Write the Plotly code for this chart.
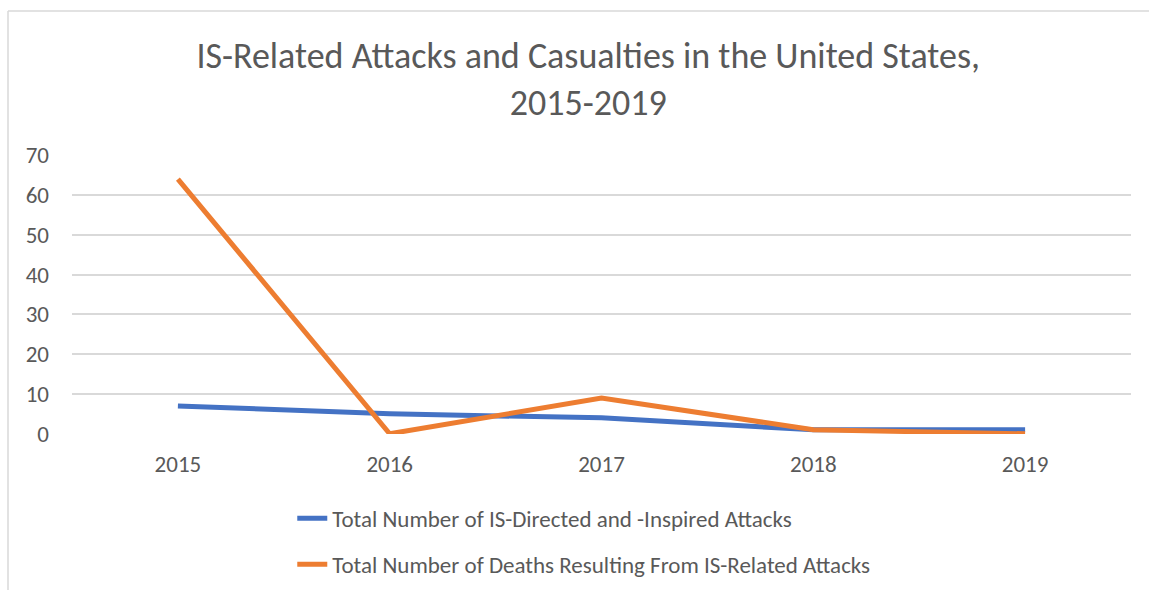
import plotly.graph_objects as go

years = ["2015", "2016", "2017", "2018", "2019"]
attacks = [7, 5, 4, 1, 1]
deaths = [64, 0, 9, 1, 0]
attacks_name = "Total Number of IS-Directed and -Inspired Attacks"
deaths_name = "Total Number of Deaths Resulting From IS-Related Attacks"
title_text = "IS-Related Attacks and Casualties in the United States,<br>2015-2019"

FONT = "Carlito, Lato, 'Open Sans', sans-serif"
TXT = "#595959"

fig = go.Figure()
fig.add_trace(go.Scatter(x=years, y=attacks, mode="lines", name=attacks_name,
                         legendgroup="a",
                         line=dict(color="#4472C4", width=5)))
fig.add_trace(go.Scatter(x=years, y=deaths, mode="lines", name=deaths_name,
                         legendgroup="b",
                         line=dict(color="#ED7D31", width=5)))

fig.update_layout(
    width=1149, height=590,
    margin=dict(l=72, r=18, t=155, b=156, autoexpand=False),
    paper_bgcolor="white", plot_bgcolor="white",
    font=dict(family=FONT, color=TXT, size=22),
    title=dict(text=title_text, x=0.512, xanchor="center", xref="container",
               y=1 - 68 / 590, yanchor="middle", yref="container",
               font=dict(size=36, color=TXT, family=FONT)),
    xaxis=dict(type="category", range=[-0.5, 4.5], showgrid=False, zeroline=False,
               showline=False, ticks="", tickfont=dict(size=23, color=TXT),
               ticklabelstandoff=14),
    yaxis=dict(range=[-0.06, 70.06], tickvals=[0, 10, 20, 30, 40, 50, 60, 70],
               showgrid=True, gridcolor="#D9D9D9",
               gridwidth=1.5, zeroline=False, showline=False, ticks="",
               tickfont=dict(size=23, color=TXT), ticklabelstandoff=22),
    legend=dict(orientation="v", x=0.208, xanchor="left", y=-0.225, yanchor="top",
                traceorder="grouped", tracegroupgap=13,
                font=dict(size=23, color=TXT), bgcolor="rgba(0,0,0,0)"),
    showlegend=True,
)

fig.add_shape(type="line", xref="paper", yref="paper", x0=-(72 - 8) / 1059, x1=1.2,
              y0=(434 - 11) / 279, y1=(434 - 11) / 279,
              line=dict(color="#D9D9D9", width=1.5), layer="below")
fig.add_shape(type="line", xref="paper", yref="paper", x0=-(72 - 8) / 1059, x1=-(72 - 8) / 1059,
              y0=(434 - 11) / 279, y1=-1,
              line=dict(color="#D9D9D9", width=1.5), layer="below")

fig.write_html("out.html")
